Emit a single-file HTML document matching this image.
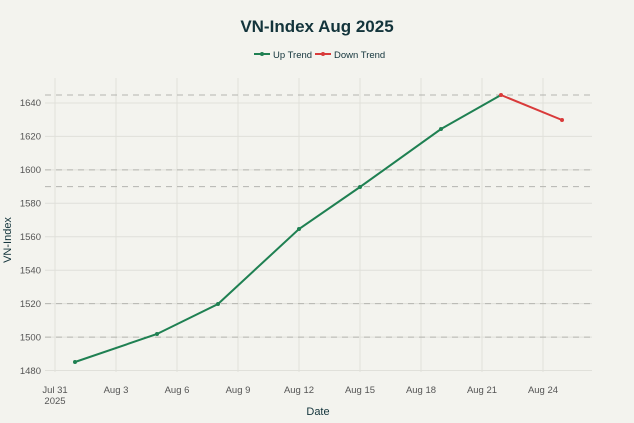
<!DOCTYPE html>
<html><head><style>body{margin:0;background:#f3f3ee;}svg{display:block;font-family:"Liberation Sans",sans-serif;}</style></head>
<body>
<svg width="634" height="423" viewBox="0 0 634 423">
<rect width="634" height="423" fill="#f3f3ee"/>
<text x="317" y="32" text-anchor="middle" font-size="17" fill="#13343b" font-weight="bold">VN-Index Aug 2025</text>
<g font-size="9.5" fill="#13343b">
<line x1="254" y1="54" x2="270" y2="54" stroke="#1f8052" stroke-width="2"/><circle cx="262" cy="54" r="2" fill="#1f8052"/>
<text x="273" y="58">Up Trend</text>
<line x1="315" y1="54" x2="331" y2="54" stroke="#d93a3a" stroke-width="2"/><circle cx="323" cy="54" r="2" fill="#d93a3a"/>
<text x="334" y="58">Down Trend</text>
</g>
<g stroke="#e0e0da" stroke-width="1">
<line x1="45" y1="103" x2="592" y2="103"/><line x1="45" y1="136.4" x2="592" y2="136.4"/><line x1="45" y1="169.9" x2="592" y2="169.9"/><line x1="45" y1="203.3" x2="592" y2="203.3"/><line x1="45" y1="236.8" x2="592" y2="236.8"/><line x1="45" y1="270.2" x2="592" y2="270.2"/><line x1="45" y1="303.6" x2="592" y2="303.6"/><line x1="45" y1="337.1" x2="592" y2="337.1"/><line x1="45" y1="370.5" x2="592" y2="370.5"/>
<line x1="55" y1="78" x2="55" y2="372"/><line x1="116" y1="78" x2="116" y2="372"/><line x1="177" y1="78" x2="177" y2="372"/><line x1="238" y1="78" x2="238" y2="372"/><line x1="299" y1="78" x2="299" y2="372"/><line x1="360" y1="78" x2="360" y2="372"/><line x1="421" y1="78" x2="421" y2="372"/><line x1="482" y1="78" x2="482" y2="372"/><line x1="543" y1="78" x2="543" y2="372"/>
</g>
<g stroke="#b5b5b0" stroke-width="1" stroke-dasharray="6,5">
<line x1="45" y1="95" x2="592" y2="95"/><line x1="45" y1="169.9" x2="592" y2="169.9"/><line x1="45" y1="186.6" x2="592" y2="186.6"/><line x1="45" y1="303.6" x2="592" y2="303.6"/><line x1="45" y1="337.1" x2="592" y2="337.1"/>
</g>
<g font-size="9.5" fill="#555" text-anchor="end">
<text x="41" y="106">1640</text><text x="41" y="139.5">1620</text><text x="41" y="173">1600</text><text x="41" y="206.5">1580</text><text x="41" y="240">1560</text><text x="41" y="273.5">1540</text><text x="41" y="307">1520</text><text x="41" y="340.5">1500</text><text x="41" y="374">1480</text>
</g>
<g font-size="9.5" fill="#555" text-anchor="middle">
<text x="55" y="393">Jul 31</text><text x="55" y="404">2025</text>
<text x="116" y="393">Aug 3</text><text x="177" y="393">Aug 6</text><text x="238" y="393">Aug 9</text><text x="299" y="393">Aug 12</text><text x="360" y="393">Aug 15</text><text x="421" y="393">Aug 18</text><text x="482" y="393">Aug 21</text><text x="543" y="393">Aug 24</text>
</g>
<text x="318" y="415" text-anchor="middle" font-size="11" fill="#13343b">Date</text>
<text transform="translate(11,240) rotate(-90)" text-anchor="middle" font-size="11" fill="#13343b">VN-Index</text>
<polyline points="75,362 157,334 218,304 299,229 360,187 441,129 501,95" fill="none" stroke="#1f8052" stroke-width="2"/>
<g fill="#1f8052"><circle cx="75" cy="362" r="2"/><circle cx="157" cy="334" r="2"/><circle cx="218" cy="304" r="2"/><circle cx="299" cy="229" r="2"/><circle cx="360" cy="187" r="2"/><circle cx="441" cy="129" r="2"/></g>
<polyline points="501,95 562,120" fill="none" stroke="#d93a3a" stroke-width="2"/>
<g fill="#d93a3a"><circle cx="501" cy="95" r="2"/><circle cx="562" cy="120" r="2"/></g>
</svg>
</body></html>
